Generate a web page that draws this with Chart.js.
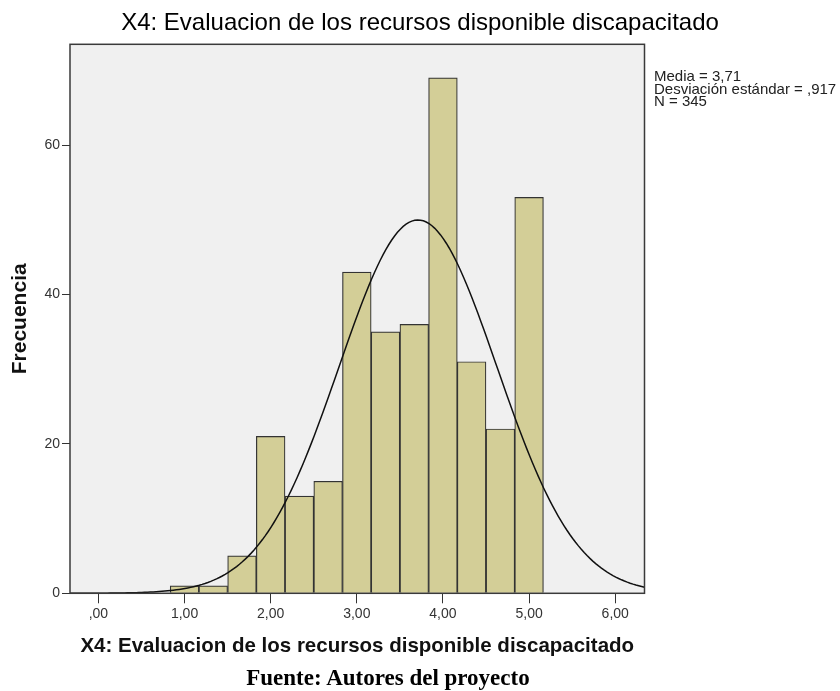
<!DOCTYPE html>
<html>
<head>
<meta charset="utf-8">
<script src="https://cdn.jsdelivr.net/npm/chart.js@4"></script>
<style>
  body { margin: 0; background: #fff; }
  #wrap { position: relative; width: 840px; height: 691px; }
  #stats {
    position: absolute; left: 654px; top: 70px;
    font: 15px 'Liberation Sans', Arial, sans-serif; line-height: 12.5px; color: #222;
  }
  #fuente {
    position: absolute; left: 0; width: 776px; top: 665px; text-align: center;
    font: bold 23px 'Liberation Serif', 'Times New Roman', serif; color: #000;
  }
</style>
</head>
<body>
<div id="wrap">
  <canvas id="histo" width="840" height="691"></canvas>
  <div id="stats"></div>
  <div id="fuente">Fuente: Autores del proyecto</div>
</div>
<script>
// histogram bins (center of each bin) and counts
const binCenters = [1.0, 1.333, 1.667, 2.0, 2.333, 2.667, 3.0, 3.333, 3.667, 4.0, 4.333, 4.667, 5.0];
const frequencies = [1, 1, 5, 21, 13, 15, 43, 35, 36, 69, 31, 22, 53];
const binWidth = 0.333;

// stats printed at the right
const media = 3.71;
const desviacion = 0.917;
const total = 345;

const xTicks = [0, 1, 2, 3, 4, 5, 6];
const yTicks = [0, 20, 40, 60];

const xMin = -0.33, xMax = 6.34;
const yMax = 73.5;

document.getElementById('stats').innerHTML =
  'Media = ' + media.toFixed(2).replace('.', ',') + '<br>' +
  'Desviación estándar = ' + desviacion.toFixed(3).replace('0.', ',') + '<br>' +
  'N = ' + total;

// normal curve scaled to the histogram (N * bin width * pdf)
const curve = [];
for (let i = 0; i <= 200; i++) {
  const x = xMin + (xMax - xMin) * i / 200;
  const z = (x - media) / desviacion;
  const y = total * binWidth * Math.exp(-0.5 * z * z) / (desviacion * Math.sqrt(2 * Math.PI));
  curve.push({ x: x, y: y });
}

const fmt = v => {
  const s = v.toFixed(2).replace('.', ',');
  return s.startsWith('0,') ? s.slice(1) : s;
};

// gray plot box behind everything + frame on top
const plotBox = {
  id: 'plotBox',
  beforeDatasetsDraw(chart) {
    const { ctx, chartArea: a } = chart;
    ctx.save();
    ctx.fillStyle = '#f0f0f0';
    ctx.fillRect(a.left, a.top, a.right - a.left, a.bottom - a.top);
    ctx.restore();
  },
  afterDraw(chart) {
    const { ctx, chartArea: a } = chart;
    ctx.save();
    ctx.strokeStyle = '#3a3a3a';
    ctx.lineWidth = 1.5;
    ctx.strokeRect(a.left, a.top, a.right - a.left, a.bottom - a.top);
    ctx.restore();
  }
};

const font = "'Liberation Sans', Arial, sans-serif";

new Chart(document.getElementById('histo'), {
  data: {
    datasets: [
      {
        type: 'line',
        data: curve,
        borderColor: '#111',
        borderWidth: 1.5,
        pointRadius: 0,
        tension: 0,
        order: 0
      },
      {
        type: 'bar',
        data: binCenters.map((c, i) => ({ x: c, y: frequencies[i] })),
        backgroundColor: '#d3ce97',
        borderColor: '#333',
        borderWidth: 1.2,
        barPercentage: 1,
        categoryPercentage: 1,
        order: 1
      }
    ]
  },
  options: {
    responsive: false,
    animation: false,
    layout: { padding: 0 },
    plugins: {
      legend: { display: false },
      tooltip: { enabled: false },
      title: {
        display: true,
        text: 'X4: Evaluacion de los recursos disponible discapacitado',
        color: '#000',
        font: { family: font, size: 24, weight: 'normal' },
        padding: { top: 9.4, bottom: 6.1 }
      }
    },
    scales: {
      x: {
        type: 'linear',
        min: xMin,
        max: xMax,
        offset: false,
        afterFit(s) { s.height = 97.7; },
        afterBuildTicks(s) { s.ticks = xTicks.map(v => ({ value: v })); },
        ticks: { includeBounds: false, callback: v => fmt(v), color: '#333',
                 font: { family: font, size: 14 }, padding: 2, maxRotation: 0 },
        grid: { display: true, drawOnChartArea: false, tickLength: 10, color: '#333', offset: false },
        border: { display: true, color: '#333' },
        title: {
          display: true,
          text: 'X4: Evaluacion de los recursos disponible discapacitado',
          color: '#111',
          font: { family: font, size: 20.5, weight: 'bold' },
          padding: { top: 0, bottom: 32 }
        }
      },
      y: {
        type: 'linear',
        min: 0,
        max: yMax,
        afterFit(s) { s.width = 70; },
        afterBuildTicks(s) { s.ticks = yTicks.map(v => ({ value: v })); },
        ticks: { includeBounds: false, color: '#333', font: { family: font, size: 14 }, padding: 2 },
        grid: { display: true, drawOnChartArea: false, tickLength: 8, color: '#333' },
        border: { display: true, color: '#333' },
        title: {
          display: true,
          text: 'Frecuencia',
          color: '#111',
          font: { family: font, size: 21, weight: 'bold' },
          padding: { top: 8, bottom: 0 }
        }
      },
      // empty axis on the right that keeps room for the stats text
      side: {
        type: 'linear',
        position: 'right',
        afterFit(s) { s.width = 195.5; },
        ticks: { display: false },
        grid: { display: false },
        border: { display: false }
      }
    }
  },
  plugins: [plotBox]
});
</script>
</body>
</html>
